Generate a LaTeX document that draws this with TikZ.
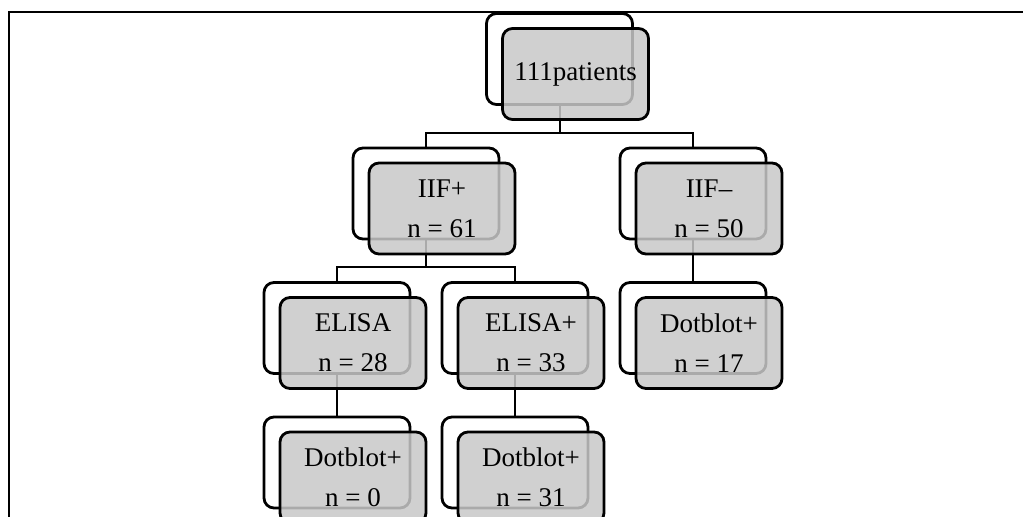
\documentclass[tikz,border=0pt]{standalone}
\usepackage{fontspec}
\setmainfont{Liberation Serif}
\usepackage{tikz}
\definecolor{boxgray}{RGB}{200,200,200}

\begin{document}
\begin{tikzpicture}[x=0.5pt,y=-0.5pt,
  edge from parent path={(\tikzparentnode.south) |- ([yshift=7pt]\tikzchildnode.north) -- (\tikzchildnode.north)}]
\useasboundingbox (0,0) rectangle (1023,517);
\draw[line width=1.1pt] (9,517) -- (9,12) -- (1023,12);
\tikzstyle{every node}=[draw,rounded corners=5pt,line width=1.4pt,minimum width=73pt,minimum height=45.5pt,inner sep=0pt,font=\fontsize{13.5}{20}\selectfont,align=center];
\tikzstyle{front}=[fill=boxgray,fill opacity=0.85,text opacity=1];
\tikzstyle{edge from parent}=[draw,line width=1pt];
% back boxes and connectors
\node (root) at (559.5,59) {}[level distance=67.25pt,sibling distance=133.5pt]
child { node (iifp) {}[sibling distance=89pt]
	child {
		node (elisan) {}
		child { node (dotn) {} }
	}
	child {
		node (elisap) {}
		child { node (dotp) {} }
	}
}
child { node (iifm) {}
	child { node (dotm) {} }
};
% front boxes
\node[front] (rootf) at ([shift={(16,15)}]root.center) {111patients};
\node[front] (iifpf) at ([shift={(16,15)}]iifp.center) {IIF+\\n = 61};
\node[front] (iifmf) at ([shift={(16,15)}]iifm.center) {IIF–\\n = 50};
\node[front] (elisanf) at ([shift={(16,15)}]elisan.center) {ELISA\\n = 28};
\node[front] (elisapf) at ([shift={(16,15)}]elisap.center) {ELISA+\\n = 33};
\node[front] (dotmf) at ([shift={(16,15)}]dotm.center) {Dotblot+\\n = 17};
\node[front] (dotnf) at ([shift={(16,15)}]dotn.center) {Dotblot+\\n = 0};
\node[front] (dotpf) at ([shift={(16,15)}]dotp.center) {Dotblot+\\n = 31};
\end{tikzpicture}
\end{document}
